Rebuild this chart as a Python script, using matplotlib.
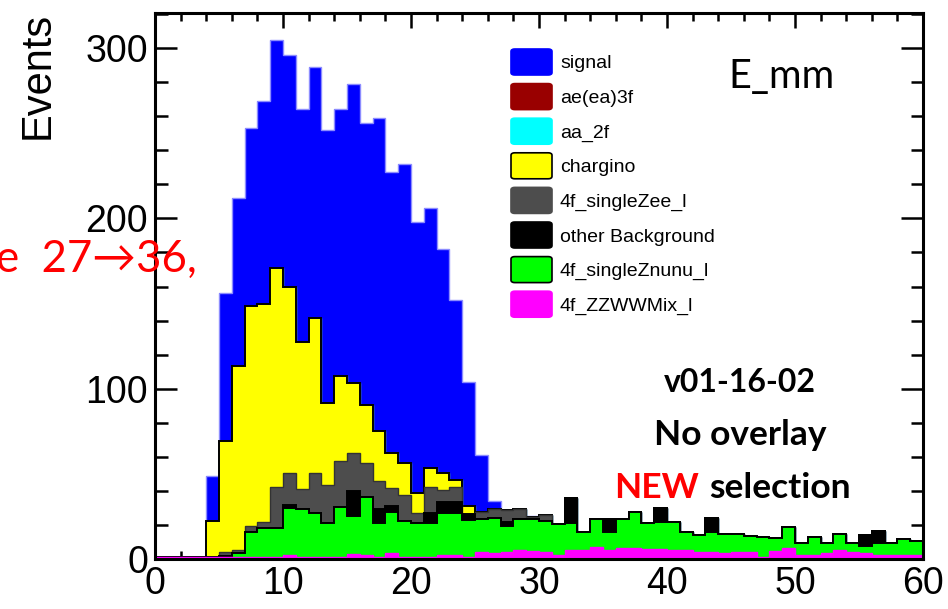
import numpy as np
import matplotlib
matplotlib.use('Agg')
import matplotlib.pyplot as plt
from matplotlib.patches import FancyBboxPatch

# E_mm histogram, 60 bins of 1 GeV
edges = np.arange(0, 61, 1)

zzwwmix = [1, 1, 1, 1, 1, 1, 1, 1, 1, 1,
           2.3, 1, 1, 1, 1, 2.9, 2.3, 1.3, 3.5, 1,
           1, 1, 2.3, 2.3, 1, 4.3, 3.3, 3.9, 5, 4.9,
           4.3, 2.3, 5, 5, 6.9, 5.3, 6.3, 6.3, 5.9, 5.9,
           5.3, 5.3, 4.3, 4.3, 3.3, 4.3, 4.3, 1.4, 4.9, 6.3,
           2.3, 2.3, 3.3, 5.5, 4.3, 3.3, 2.3, 2.3, 2.3, 2.3]
singleznunu = [0, 0, 0, 0, 0, 1, 2.5, 14.7, 17, 17,
               27.7, 28.2, 25.8, 20.3, 29.7, 22.1, 33.9, 19.7, 23.9, 21.5,
               20, 20.3, 24.5, 24.5, 22, 19.2, 20.8, 15.5, 18.3, 18.4,
               18.2, 18.3, 16.3, 11, 16.4, 10.4, 17, 21.5, 15.4, 16,
               16.6, 10.7, 9.8, 11.7, 11.4, 10.2, 9.4, 11.7, 7.2, 12.7,
               6.9, 10.8, 6.3, 9.2, 4.9, 4.3, 7.3, 7.3, 9.2, 8.5]
other_bkg = [0, 0, 0, 0, 0, 0, 0, 0, 0, 0,
             2, 0, 0, 0, 0, 15, 0, 8.2, 3.7, 0,
             0, 5.9, 6.5, 6.5, 3.4, 0, 0, 2.1, 0, 0,
             0, 0, 14.3, 0, 0, 7.6, 0, 0, 0, 8.2,
             0, 0, 0, 7.9, 0, 0, 0, 0, 0, 0,
             0, 0, 0, 0, 0, 6.5, 7, 0, 0, 0]
singlezee = [0, 0, 0, 0, 0, 2, 1.5, 3.9, 3.5, 24.5,
             18.3, 11.7, 23.5, 22.2, 26.8, 22, 20.4, 16.6, 10.4, 15.1,
             5.8, 15.3, 7.2, 8.8, 0, 4.3, 5.3, 7.3, 5.9, 1.6,
             3.3, 0, 0, 0, 0, 0, 0, 0, 0, 0,
             0, 0, 0, 0, 0, 0, 0, 0, 0, 0,
             0, 0, 0, 0, 0, 0, 0, 0, 0, 0]
chargino = [0, 0, 0, 0, 21.5, 65.3, 108.3, 129, 128.2, 128.2,
            109.6, 86.7, 91, 47.9, 50.1, 41.1, 33.8, 29.5, 20.9, 18.9,
            12.1, 10.7, 9.8, 4.3, 4.9, 0, 0, 0, 0, 0,
            0, 0, 0, 0, 0, 0, 0, 0, 0, 0,
            0, 0, 0, 0, 0, 0, 0, 0, 0, 0,
            0, 0, 0, 0, 0, 0, 0, 0, 0, 0]
aa_2f = [0] * 60
ae_3f = [0] * 60
signal = [0, 0, 0, 0, 26.5, 86.7, 98.7, 104.4, 119.3, 134.3,
          136.1, 136.4, 147.7, 160.6, 156.4, 175.9, 165.6, 183.7, 164.6, 175.5,
          159.1, 152.8, 131.7, 105.6, 72.7, 33.2, 4.9, 0.2, 0.4, 0.5,
          0, 0, 0, 0, 0, 0, 0, 0, 0, 0,
          0, 0, 0, 0, 0, 0, 0, 0, 0, 0,
          0, 0, 0, 0, 0, 0, 0, 0, 0, 0]

# stack order, bottom first: (name, counts, fill, line)
stack = [
    ('4f_ZZWWMix_l',    zzwwmix,     '#ff00ff', '#ff00ff'),
    ('4f_singleZnunu_l', singleznunu, '#00ff00', 'black'),
    ('other Background', other_bkg,  'black',   'black'),
    ('4f_singleZee_l',  singlezee,   '#4d4d4d', '#333333'),
    ('chargino',        chargino,    '#ffff00', 'black'),
    ('aa_2f',           aa_2f,       '#00ffff', '#00ffff'),
    ('ae(ea)3f',        ae_3f,       '#990000', '#990000'),
    ('signal',          signal,      '#0000ff', '#8c8cff'),
]

W, H = 948, 609
def fpos(x, y):
    # pixel position -> figure fraction (y measured from top)
    return x / W, 1 - y / H

fig = plt.figure(figsize=(W / 100, H / 100), dpi=100)
ax = fig.add_axes([155 / W, 1 - 559 / H, (923 - 155) / W, (559 - 13) / H])

cum = np.cumsum([np.array(s[1], dtype=float) for s in stack], axis=0)
# draw the full stack first, then each lower sum on top of it
for i in range(len(stack) - 1, -1, -1):
    name, vals, fc, lc = stack[i]
    ax.stairs(cum[i], edges, baseline=0, fill=True, color=fc, zorder=2 + (len(stack) - i))
    ax.stairs(cum[i], edges, baseline=None, color=lc, lw=1.4 if lc == 'black' else 1.0,
              zorder=2.5 + (len(stack) - i))

ax.set_xlim(0, 60)
ax.set_ylim(0, 320.6)
ax.set_xticks(np.arange(0, 61, 10))
ax.set_xticks(np.arange(0, 61, 2), minor=True)
ax.set_yticks(np.arange(0, 301, 100))
ax.set_yticks(np.arange(0, 321, 20), minor=True)
for s in ax.spines.values():
    s.set_linewidth(2.2)
    s.set_zorder(20)
ax.tick_params(which='both', direction='in', top=True, right=True, width=1.8,
               labelsize=27, pad=5)
ax.tick_params(axis='x', which='major', length=11)
ax.tick_params(axis='x', which='minor', length=6)
ax.tick_params(axis='y', which='major', length=16)
ax.tick_params(axis='y', which='minor', length=9)
for lab in ax.get_xticklabels() + ax.get_yticklabels():
    lab.set_fontfamily('Liberation Sans')

fig.text(*fpos(38, 12), 'Events', rotation=90, ha='center', va='top',
         fontsize=30, family='Liberation Sans')

# legend, top entry first
legend_rows = list(reversed(stack))
for k, (name, vals, fc, lc) in enumerate(legend_rows):
    yc = 62 + 34.6 * k
    x0, y0 = fpos(511, yc + 13)
    box = FancyBboxPatch((x0, y0), 41 / W, 26 / H, boxstyle='round,pad=0,rounding_size=0.004',
                         transform=fig.transFigure, facecolor=fc,
                         edgecolor='black' if name in ('chargino', '4f_singleZnunu_l') else fc,
                         lw=1.2, zorder=30)
    fig.add_artist(box)
    fig.text(*fpos(560, yc), name, ha='left', va='center_baseline', fontsize=14,
             family='Liberation Sans', zorder=31)

fig.text(*fpos(728, 88), 'E_mm', ha='left', va='baseline', fontsize=28.5, family='Lato')
fig.text(*fpos(740, 392), 'v01-16-02', ha='center', va='baseline', fontsize=23,
         family='Lato', weight='bold')
fig.text(*fpos(740, 445), 'No overlay', ha='center', va='baseline', fontsize=25.5,
         family='Lato', weight='bold')
fig.text(*fpos(699, 498), 'NEW', ha='right', va='baseline', fontsize=25.5,
         family='Lato', weight='bold', color='red')
fig.text(*fpos(709, 498), 'selection', ha='left', va='baseline', fontsize=25.5,
         family='Lato', weight='bold')
fig.text(*fpos(-4, 272), 'e  27\u219236,', ha='left', va='baseline', fontsize=31.5,
         family=['Lato', 'DejaVu Sans'], color='red', zorder=40)

fig.savefig('out.png', dpi=100)
